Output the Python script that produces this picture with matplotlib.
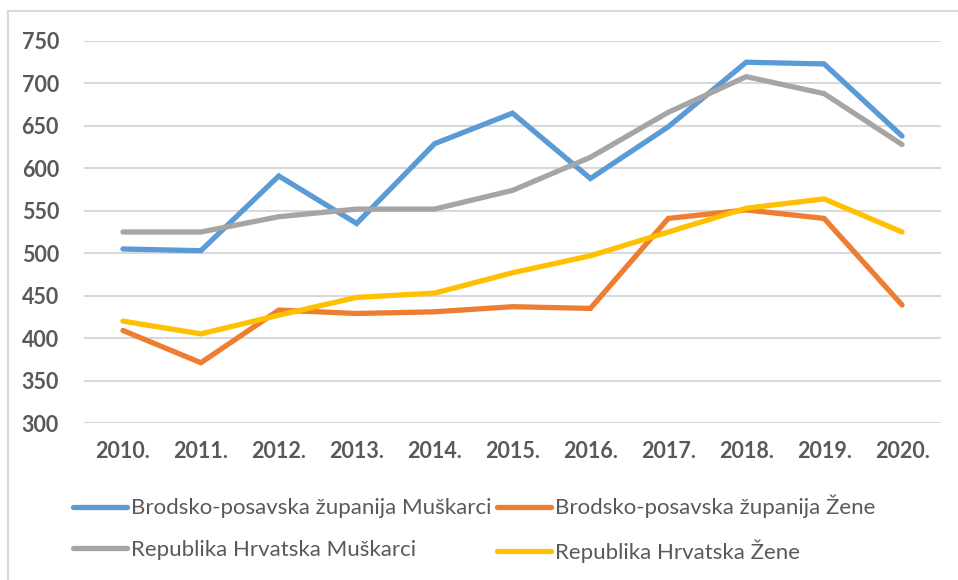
"""
Line chart: Brodsko-posavska županija vs Republika Hrvatska, 2010-2020
"""

import matplotlib.pyplot as plt
from matplotlib.lines import Line2D

years = ["2010.", "2011.", "2012.", "2013.", "2014.", "2015.",
         "2016.", "2017.", "2018.", "2019.", "2020."]

bps_muskarci = [505, 503, 591, 535, 629, 665, 588, 649, 725, 723, 638]
bps_zene = [409, 371, 433, 429, 431, 437, 435, 541, 551, 541, 439]
rh_muskarci = [525, 525, 543, 552, 552, 574, 613, 666, 708, 688, 628]
rh_zene = [420, 405, 427, 448, 453, 477, 497, 525, 553, 564, 525]

series = [
    ("Brodsko-posavska županija Muškarci", bps_muskarci, "#5B9BD5"),
    ("Brodsko-posavska županija Žene", bps_zene, "#ED7D31"),
    ("Republika Hrvatska Muškarci", rh_muskarci, "#A5A5A5"),
    ("Republika Hrvatska Žene", rh_zene, "#FFC000"),
]

yticks = [300, 350, 400, 450, 500, 550, 600, 650, 700, 750]

text_color = "#595959"
plt.rcParams["font.family"] = ["Lato", "DejaVu Sans"]

W, H = 958, 580
fig = plt.figure(figsize=(W / 100, H / 100), dpi=100)
ax = fig.add_axes([84 / W, 157 / H, (941 - 84) / W, (423 - 41) / H])

x = list(range(len(years)))
for label, values, color in series:
    ax.plot(x, values, color=color, linewidth=3.8, label=label,
            solid_capstyle="round", solid_joinstyle="miter", zorder=3)

ax.set_xlim(-0.5, len(years) - 0.5)
ax.set_ylim(300, 750)
ax.set_yticks(yticks)
ax.set_xticks(x)
ax.set_xticklabels(years)
ax.grid(axis="y", color="#D9D9D9", linewidth=1.5, zorder=0)
for spine in ax.spines.values():
    spine.set_visible(False)
ax.tick_params(axis="both", length=0, labelcolor=text_color, labelsize=15.5)
ax.tick_params(axis="y", pad=18)
ax.tick_params(axis="x", pad=13)
for lbl in ax.get_xticklabels() + ax.get_yticklabels():
    lbl.set_fontweight("bold")

# chart area border (left and top edges only are visible)
fig.add_artist(Line2D([8 / W, 8 / W], [0, 1 - 11 / H], color="#D9D9D9",
                      linewidth=1.5, transform=fig.transFigure))
fig.add_artist(Line2D([8 / W, 1], [1 - 11 / H, 1 - 11 / H], color="#D9D9D9",
                      linewidth=1.5, transform=fig.transFigure))

# legend is filled column by column: put the two Brodsko series in row one
handles, labels = ax.get_legend_handles_labels()
order = [0, 2, 1, 3]
leg = fig.legend([handles[i] for i in order], [labels[i] for i in order],
                 ncol=2, loc="upper left",
                 bbox_to_anchor=(73 / W, 1 - 495 / H), frameon=False,
                 fontsize=16, handlelength=2.45, handletextpad=0.18,
                 columnspacing=0.22, labelspacing=0.95, borderpad=0,
                 borderaxespad=0)
for t in leg.get_texts():
    t.set_color(text_color)

fig.savefig("out.png", dpi=100, facecolor="white")
